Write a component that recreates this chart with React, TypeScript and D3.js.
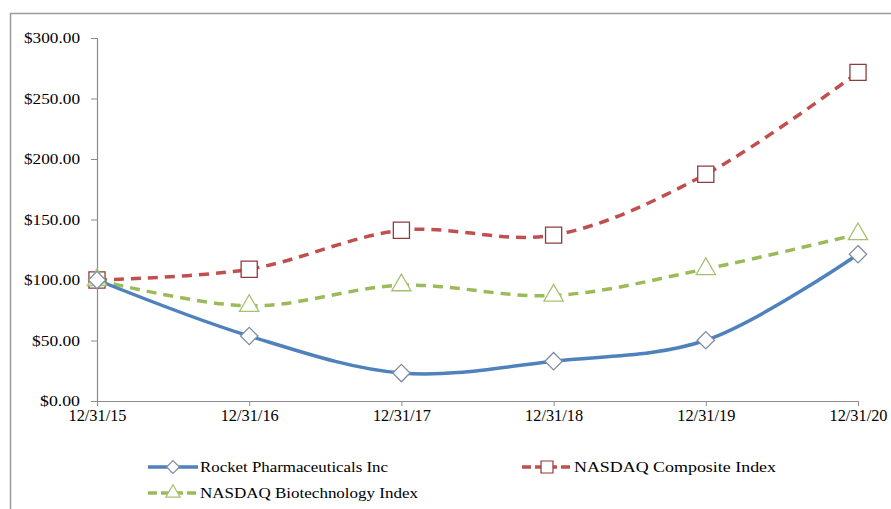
import React, { useEffect, useRef } from "react";
import * as d3 from "d3";

const dates = ["12/31/15", "12/31/16", "12/31/17", "12/31/18", "12/31/19", "12/31/20"];
const rocket = [100, 53.7, 23.1, 32.9, 50.2, 121.3];
const nasdaqComp = [100, 108.9, 141.1, 137.1, 187.4, 271.6];
const nasdaqBio = [100, 78.6, 95.7, 87.2, 109.1, 137.9];
const yTicks = [0, 50, 100, 150, 200, 250, 300];

const FONT = "'Liberation Serif', 'Times New Roman', serif";

// diamond = square turned 45deg, same width and height
const diamond = {
  draw(ctx, size) {
    const r = Math.sqrt(size / 2);
    ctx.moveTo(0, -r);
    ctx.lineTo(r, 0);
    ctx.lineTo(0, r);
    ctx.lineTo(-r, 0);
    ctx.closePath();
  },
};

const fmt = (d) => "$" + d3.format(".2f")(d);

const App = () => {
  const ref = useRef(null);

  useEffect(() => {
    const svg = d3.select(ref.current);
    svg.selectAll("*").remove();

    // frame around the whole chart
    svg.append("rect")
      .attr("x", 10.5).attr("y", 13.5)
      .attr("width", 900).attr("height", 520)
      .attr("fill", "#fff").attr("stroke", "#9a9a9a").attr("stroke-width", 1.5);

    const x = d3.scalePoint().domain(dates).range([97, 858]);
    const y = d3.scaleLinear().domain([0, 300]).range([401, 38]);

    // y axis
    const gy = svg.append("g").attr("transform", "translate(97,0)")
      .call(d3.axisLeft(y).tickValues(yTicks).tickSize(6).tickPadding(11).tickFormat(fmt));
    gy.select(".domain").attr("stroke", "#8c8c8c").attr("stroke-width", 1.2);
    gy.selectAll(".tick line").attr("stroke", "#8c8c8c");
    gy.selectAll("text").attr("font-family", FONT).attr("font-size", 15).attr("fill", "#000")
      .attr("textLength", (d) => fmt(d).length * 8).attr("lengthAdjust", "spacingAndGlyphs");

    // x axis
    const gx = svg.append("g").attr("transform", "translate(0,401)")
      .call(d3.axisBottom(x).tickSize(5).tickPadding(4).tickSizeOuter(0));
    gx.select(".domain").attr("stroke", "#8c8c8c").attr("stroke-width", 1.2);
    gx.selectAll(".tick line").attr("stroke", "#8c8c8c");
    gx.selectAll("text").attr("font-family", FONT).attr("font-size", 16).attr("fill", "#000")
      .attr("textLength", 58).attr("lengthAdjust", "spacingAndGlyphs");

    const line = d3.line<number>()
      .x((d, i) => x(dates[i]))
      .y((d) => y(d))
      .curve(d3.curveCatmullRom.alpha(0.5));

    const series = [
      { name: "NASDAQ Composite Index", vals: nasdaqComp, color: "#c0504d", mark: "#8e3b3b", dash: "10,7", sym: d3.symbolSquare, size: 260, len: 202 },
      { name: "NASDAQ Biotechnology Index", vals: nasdaqBio, color: "#9bbb59", mark: "#a5c170", dash: "10,7", sym: d3.symbolTriangle, size: 160, len: 218 },
      { name: "Rocket Pharmaceuticals Inc", vals: rocket, color: "#4f81bd", mark: "#7d8da3", dash: null, sym: diamond, size: 150, len: 188 },
    ];

    series.forEach((s) => {
      svg.append("path")
        .attr("d", line(s.vals))
        .attr("fill", "none")
        .attr("stroke", s.color)
        .attr("stroke-width", 3.5)
        .attr("stroke-dasharray", s.dash);
    });

    series.forEach((s) => {
      svg.append("g").selectAll("path")
        .data(s.vals)
        .join("path")
        .attr("transform", (d, i) => `translate(${x(dates[i])},${y(d)})`)
        .attr("d", d3.symbol().type(s.sym).size(s.size))
        .attr("fill", (d, i) => (s.sym === d3.symbolTriangle && i === 0 ? "#d7e4bd" : "#fff"))
        .attr("stroke", s.mark)
        .attr("stroke-width", 1.3);
    });

    // legend
    const legend = [
      { s: series[2], x: 148, y: 467 },
      { s: series[0], x: 522, y: 467 },
      { s: series[1], x: 148, y: 493 },
    ];
    legend.forEach(({ s, x: lx, y: ly }) => {
      const g = svg.append("g").attr("transform", `translate(${lx},${ly})`);
      g.append("line")
        .attr("x1", 0).attr("x2", 50).attr("y1", 0).attr("y2", 0)
        .attr("stroke", s.color).attr("stroke-width", 3.5)
        .attr("stroke-dasharray", s.dash ? "9,4" : null);
      g.append("path")
        .attr("transform", "translate(25,0)")
        .attr("d", d3.symbol().type(s.sym).size(s.size * 0.55))
        .attr("fill", "#fff").attr("stroke", s.mark).attr("stroke-width", 1.2);
      g.append("text")
        .attr("x", 52).attr("y", 5)
        .attr("font-family", FONT).attr("font-size", 15)
        .attr("textLength", s.len).attr("lengthAdjust", "spacingAndGlyphs")
        .text(s.name);
    });
  }, []);

  return <svg ref={ref} width={891} height={509} style={{ position: "absolute", left: 0, top: 0 }} />;
};

export default App;
